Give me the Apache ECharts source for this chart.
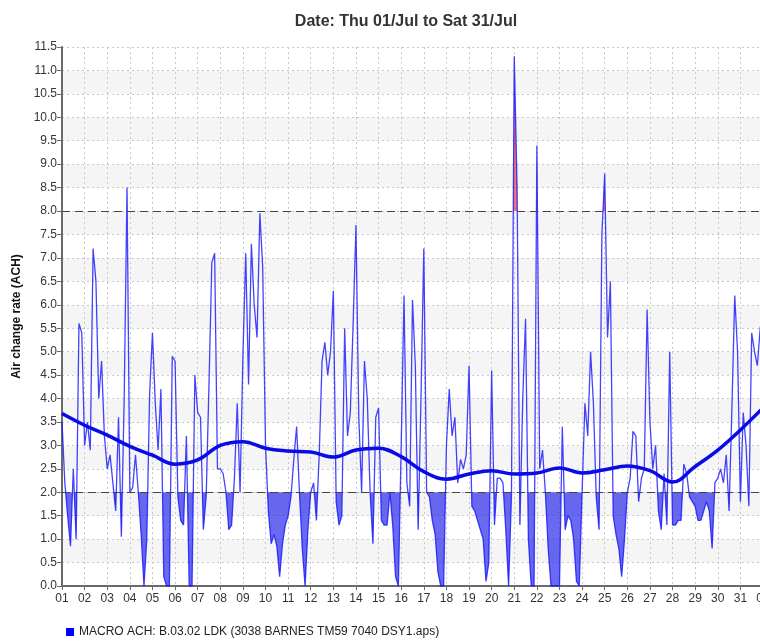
<!DOCTYPE html>
<html>
<head>
<meta charset="utf-8">
<title>ACH</title>
<script src="https://cdn.jsdelivr.net/npm/echarts@6/dist/echarts.min.js"></script>
<style>
    html, body { margin: 0; padding: 0; background: #fff; overflow: hidden; }
    #chart { width: 760px; height: 641px; }
</style>
</head>
<body>
<div id="chart"></div>
<script>
// x axis tick labels, one per day (the last one is 01/Aug)
var dayLabels = ['01','02','03','04','05','06','07','08','09','10','11','12','13','14','15','16',
    '17','18','19','20','21','22','23','24','25','26','27','28','29','30','31','01'];

// air change rate, one reading every 3 hours from Thu 01/Jul 00:00
var stepHours = 3;
var ach = [
    3.5, 2.2, 1.5, 0.85, 2.5, 1.0, 5.6, 5.4,
    3.0, 3.5, 2.9, 7.2, 6.5, 4.0, 4.8, 3.2,
    2.5, 2.8, 2.2, 1.6, 3.6, 1.05, 4.0, 8.5,
    2.0, 2.1, 2.8, 2.0, 1.1, 0.0, 1.0, 4.1,
    5.4, 3.9, 2.9, 4.2, 0.2, 0.0, 0.0, 4.9,
    4.8, 1.9, 1.4, 1.3, 3.2, 0.0, 0.0, 4.5,
    3.7, 3.6, 1.2, 1.9, 4.3, 6.9, 7.1, 2.5,
    2.5, 2.4, 2.0, 1.2, 1.3, 2.3, 3.9, 2.0,
    4.9, 7.1, 4.3, 7.3, 6.0, 5.3, 7.95, 6.8,
    3.0, 1.6, 0.9, 1.1, 0.85, 0.2, 0.9, 1.3,
    1.5, 1.9, 2.7, 3.4, 2.0, 0.8, 0.0, 1.2,
    2.0, 2.2, 1.4, 2.8, 4.8, 5.2, 4.5, 5.0,
    6.3, 1.8, 1.3, 1.5, 5.5, 3.2, 3.7, 5.6,
    7.7, 3.6, 2.0, 4.8, 4.0, 2.0, 0.9, 3.6,
    3.8, 1.4, 1.3, 1.3, 2.0, 1.3, 0.2, 0.0,
    3.0, 6.2, 2.2, 1.7, 6.1, 4.7, 1.2, 4.0,
    7.2, 2.0, 1.9, 1.4, 1.1, 0.3, 0.0, 0.0,
    3.0, 4.2, 3.2, 3.6, 2.2, 2.7, 2.5, 2.8,
    4.7, 1.7, 1.6, 1.4, 1.2, 1.0, 0.1, 0.5,
    4.6, 1.3, 2.3, 2.3, 2.2, 1.2, 0.0, 1.9,
    11.3, 8.5, 1.3, 4.0, 5.7, 1.0, 0.0, 0.0,
    9.4, 2.5, 2.9, 2.0, 0.8, 0.0, 0.0, 0.0,
    0.0, 3.4, 1.2, 1.5, 1.4, 1.0, 0.1, 0.0,
    2.0, 3.9, 3.2, 5.0, 3.9, 1.9, 1.2, 7.5,
    8.8, 5.3, 6.5, 1.5, 1.1, 0.8, 0.2, 1.0,
    2.0, 2.3, 3.3, 3.2, 1.8, 2.3, 2.5, 5.9,
    3.5, 2.5, 3.0, 1.6, 1.2, 2.4, 1.3, 5.0,
    1.3, 1.3, 1.4, 1.4, 2.6, 2.4, 1.9, 1.8,
    1.7, 1.4, 1.4, 1.6, 1.8, 1.6, 0.8, 2.2,
    2.3, 2.5, 2.2, 2.8, 1.6, 3.8, 6.2, 5.0,
    1.8, 3.7, 3.0, 1.7, 5.4, 5.0, 4.7, 5.5,
    5.8
];

// smoothed trend, one value per day at 00:00
var trend = [3.68, 3.43, 3.22, 2.98, 2.79, 2.6, 2.69, 3.0, 3.08, 2.94, 2.88, 2.86, 2.75, 2.9, 2.94, 2.76,
    2.44, 2.28, 2.39, 2.46, 2.39, 2.41, 2.52, 2.41, 2.48, 2.56, 2.46, 2.22, 2.55, 2.9, 3.33, 3.8];

var lowLimit = 2.0;
var highLimit = 8.0;
var seriesName = 'MACRO ACH: B.03.02 LDK (3038 BARNES TM59 7040 DSY1.aps)';

window.onload = function () {
    var myChart = echarts.init(document.getElementById('chart'));

    var pts = [];
    for (var i = 0; i < ach.length; i++) {
        pts.push([i * stepHours / 24, ach[i]]);
    }
    var trendPts = [];
    for (var j = 0; j < trend.length; j++) {
        trendPts.push([j, trend[j]]);
    }

    var font = 'Liberation Sans, Arial, sans-serif';
    var option = {
        animation: false,
        title: {
            text: 'Date: Thu 01/Jul to Sat 31/Jul',
            left: 401,
            top: 9,
            textAlign: 'center',
            textStyle: { fontFamily: font, fontSize: 16, fontWeight: 'bold', color: '#333' }
        },
        legend: {
            data: [seriesName],
            left: 61,
            top: 621,
            icon: 'rect',
            itemWidth: 8,
            itemHeight: 8,
            itemGap: 5,
            textStyle: { fontFamily: font, fontSize: 12, color: '#222' }
        },
        // the plot runs a little past the right edge of the picture
        grid: { left: 62, width: 701, top: 47, bottom: 55, containLabel: false, outerBoundsMode: 'none' },
        // fill colour only where the reading is under / over the limits
        visualMap: [
            {
                type: 'piecewise', show: false, seriesIndex: 0, dimension: 1,
                pieces: [{ gte: -10, lt: lowLimit, color: '#2a2aeb' }],
                outOfRange: { color: 'rgba(0,0,0,0)' }
            },
            {
                type: 'piecewise', show: false, seriesIndex: 1, dimension: 1,
                pieces: [{ gt: highLimit, lte: 100, color: '#f03a3a' }],
                outOfRange: { color: 'rgba(0,0,0,0)' }
            }
        ],
        xAxis: {
            type: 'value',
            min: 0,
            max: 31,
            interval: 1,
            axisLine: { onZero: false, lineStyle: { color: '#6a6a6a', width: 2 } },
            axisTick: { length: 4, lineStyle: { color: '#6a6a6a' } },
            axisLabel: {
                fontFamily: font, fontSize: 12, color: '#333', margin: 7,
                showMaxLabel: true,
                formatter: function (v) { return dayLabels[Math.round(v)]; }
            },
            splitLine: { show: true, lineStyle: { color: '#c8c8c8', type: [2, 3] } }
        },
        yAxis: {
            type: 'value',
            min: 0,
            max: 11.5,
            interval: 0.5,
            name: 'Air change rate (ACH)',
            nameLocation: 'middle',
            nameGap: 37,
            nameTextStyle: { fontFamily: font, fontSize: 12, fontWeight: 'bold', color: '#111' },
            axisLine: { show: true, lineStyle: { color: '#6a6a6a', width: 2 } },
            axisTick: { show: true, length: 5, lineStyle: { color: '#6a6a6a' } },
            axisLabel: {
                fontFamily: font, fontSize: 12, color: '#333', margin: 5,
                formatter: function (v) { return v.toFixed(1); }
            },
            splitLine: { show: true, lineStyle: { color: '#c8c8c8', type: [2, 3] } },
            splitArea: { show: true, areaStyle: { color: ['#ffffff', '#f5f5f5'] } }
        },
        series: [
            {
                name: 'below',
                type: 'line',
                data: pts,
                symbol: 'none',
                silent: true,
                lineStyle: { width: 0 },
                areaStyle: { origin: lowLimit, opacity: 0.7 },
                z: 1
            },
            {
                name: 'above',
                type: 'line',
                data: pts,
                symbol: 'none',
                silent: true,
                lineStyle: { width: 0 },
                areaStyle: { origin: highLimit, opacity: 0.7 },
                z: 1
            },
            {
                name: seriesName,
                type: 'line',
                data: pts,
                symbol: 'none',
                color: '#0000ff',
                lineStyle: { color: 'rgba(20,20,255,0.8)', width: 1.3 },
                z: 3,
                markLine: {
                    silent: true,
                    symbol: ['none', 'none'],
                    label: { show: false },
                    lineStyle: { color: '#444', type: [8, 5], width: 1 },
                    data: [{ yAxis: lowLimit }, { yAxis: highLimit }]
                }
            },
            {
                name: 'trend',
                type: 'line',
                data: trendPts,
                symbol: 'none',
                smooth: 0.4,
                silent: true,
                lineStyle: { color: '#0a0ae6', width: 3.5 },
                z: 4
            }
        ]
    };
    myChart.setOption(option);
};
</script>
</body>
</html>
